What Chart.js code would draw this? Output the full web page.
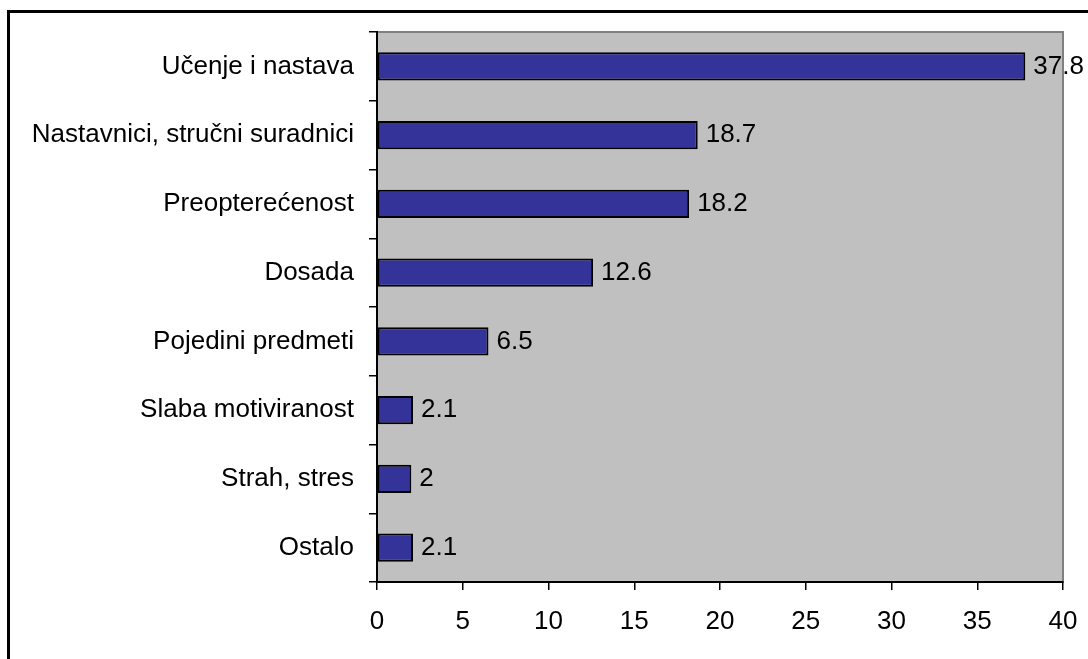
<!DOCTYPE html>
<html>
<head>
<meta charset="utf-8">
<script src="https://cdn.jsdelivr.net/npm/chart.js@4.4.0/dist/chart.umd.min.js"></script>
<style>
  body { margin: 0; background: #fff; }
  #wrap { position: relative; width: 1088px; height: 659px; overflow: hidden; }
  #frame { position: absolute; left: 7px; top: 10px; width: 2000px; height: 2000px;
           border-left: 3px solid #000; border-top: 3px solid #000; box-sizing: border-box; }
  canvas { position: absolute; left: 0; top: 0; }
</style>
</head>
<body>
<div id="wrap">
  <canvas id="myChart" width="1088" height="659"></canvas>
  <div id="frame"></div>
</div>
<script>
// data
const categories = ['Učenje i nastava', 'Nastavnici, stručni suradnici', 'Preopterećenost', 'Dosada',
                    'Pojedini predmeti', 'Slaba motiviranost', 'Strah, stres', 'Ostalo'];
const values = [37.8, 18.7, 18.2, 12.6, 6.5, 2.1, 2, 2.1];
const xMin = 0, xMax = 40, xStep = 5;

const FONT = { family: '"Liberation Sans", Arial, sans-serif', size: 26 };

// gray plot background with thin gray frame
const plotBg = {
    id: 'plotBg',
    beforeDraw(chart) {
        let a = chart.chartArea, c = chart.ctx;
        c.save();
        c.fillStyle = '#c0c0c0';
        c.fillRect(a.left, a.top, a.right - a.left, a.bottom - a.top);
        c.strokeStyle = '#808080';
        c.lineWidth = 2;
        c.strokeRect(a.left, a.top, a.right - a.left, a.bottom - a.top);
        c.restore();
    }
};

// value labels at the end of each bar
const valueLabels = {
    id: 'valueLabels',
    afterDatasetsDraw(chart) {
        let c = chart.ctx;
        let meta = chart.getDatasetMeta(0);
        c.save();
        c.font = FONT.size + 'px ' + FONT.family;
        c.fillStyle = '#000';
        c.textAlign = 'left';
        c.textBaseline = 'middle';
        meta.data.forEach(function(bar, i) {
            c.fillText(String(values[i]), bar.x + 8, bar.y);
        });
        c.restore();
    }
};

let ctx = document.getElementById('myChart').getContext('2d');
var myChart = new Chart(ctx, {
    type: 'bar',
    data: {
        labels: categories,
        datasets: [{
            data: values,
            backgroundColor: '#333399',
            borderColor: '#000000',
            borderWidth: 2,
            borderSkipped: false,
            barPercentage: 0.41,
            categoryPercentage: 1
        }]
    },
    options: {
        indexAxis: 'y',
        responsive: false,
        animation: false,
        layout: { padding: { top: 32, right: 25, left: 0, bottom: 0 } },
        plugins: { legend: { display: false }, tooltip: { enabled: false } },
        scales: {
            x: {
                min: xMin, max: xMax,
                ticks: { stepSize: xStep, color: '#000', font: FONT, padding: 16 },
                grid: { drawOnChartArea: false, color: '#000', lineWidth: 1.5, tickLength: 8 },
                border: { color: '#000', width: 2 },
                afterFit: function(scale) {
                    scale.height = 659 - 582;
                    scale.paddingLeft = 0;
                    scale.paddingRight = 0;
                }
            },
            y: {
                ticks: { color: '#000', font: FONT, padding: 15 },
                grid: { drawOnChartArea: false, offset: true, color: '#000', lineWidth: 1.5, tickLength: 8 },
                border: { color: '#000', width: 2 },
                afterFit: function(scale) {
                    scale.width = 377;
                    scale.paddingTop = 0;
                    scale.paddingBottom = 0;
                }
            }
        }
    },
    plugins: [plotBg, valueLabels]
});
</script>
</body>
</html>
